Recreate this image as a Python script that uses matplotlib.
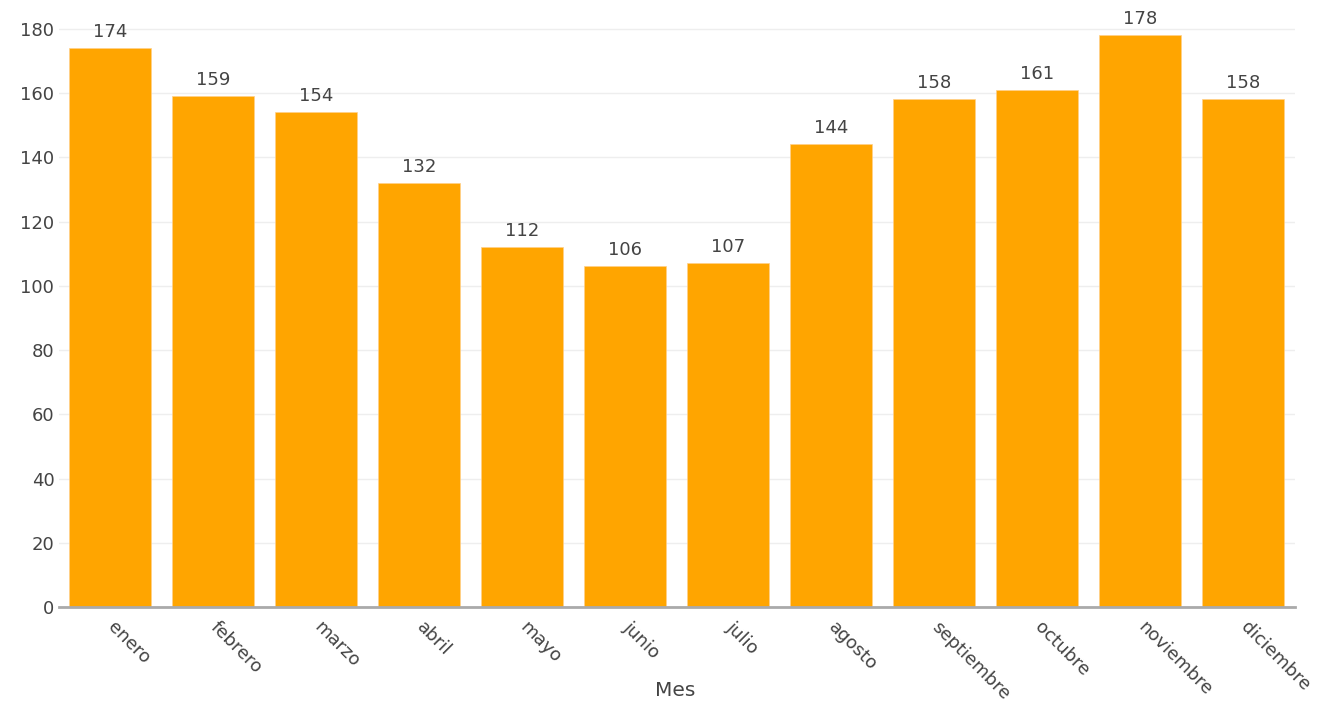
import matplotlib.pyplot as plt
import matplotlib as mpl
from matplotlib.transforms import ScaledTranslation

meses = ['enero', 'febrero', 'marzo', 'abril', 'mayo', 'junio', 'julio',
         'agosto', 'septiembre', 'octubre', 'noviembre', 'diciembre']
valores = [174, 159, 154, 132, 112, 106, 107, 144, 158, 161, 178, 158]
y_ticks = [0, 20, 40, 60, 80, 100, 120, 140, 160, 180]

mpl.rcParams['font.family'] = ['DejaVu Sans']
gris = '#444444'
fs = 13

fig = plt.figure(figsize=(13.27, 7.09), dpi=100)
# axes in pixel coords: left 58.5, right 1294.5, bottom 607, top ~5
W, H = 1327.0, 709.0
ax = fig.add_axes([58.5 / W, (H - 607) / H, 1236 / W, 602 / H])

x = list(range(len(meses)))
ax.bar(x, valores, width=0.8, color='#FFA500', edgecolor='#FFD08A', linewidth=0.5, zorder=3)
for xi, v in zip(x, valores):
    ax.text(xi, v + 2.2, str(v), ha='center', va='bottom', fontsize=fs, color=gris, zorder=4)

ax.set_xlim(-0.5, len(meses) - 0.5)
ax.set_ylim(0, 187.4)
ax.set_yticks(y_ticks)
ax.set_yticklabels([str(t) for t in y_ticks], fontsize=fs, color=gris)
ax.set_xticks(x)
ax.set_xticklabels(meses, fontsize=fs, color=gris, rotation=-45,
                   ha='left', va='top', rotation_mode='anchor')
ax.tick_params(axis='x', length=0, pad=8)
ax.tick_params(axis='y', length=0, pad=3)
# nudge the rotated month labels a little to the right
off = ScaledTranslation(5 / 72, 0, fig.dpi_scale_trans)
for lbl in ax.get_xticklabels():
    lbl.set_transform(lbl.get_transform() + off)

ax.grid(axis='y', color='#eeeeee', linewidth=1, zorder=0)
for s in ['top', 'right', 'left']:
    ax.spines[s].set_visible(False)
ax.spines['bottom'].set_color('#aaaaaa')
ax.spines['bottom'].set_linewidth(2)
ax.spines['bottom'].set_zorder(5)

fig.text(675 / W, 1 - 690 / H, 'Mes', ha='center', va='center', fontsize=14.5, color=gris)

fig.savefig('out.png', dpi=100)
